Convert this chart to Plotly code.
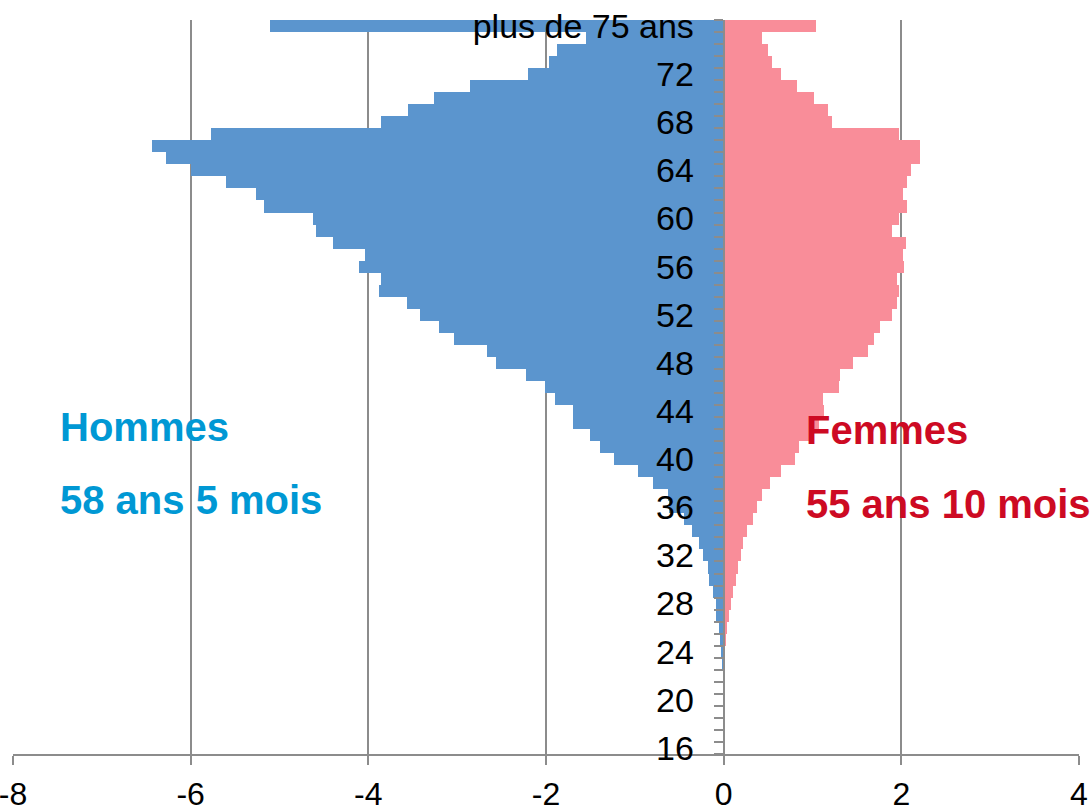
import plotly.graph_objects as go

# Categories from bottom (16 ans) to top (plus de 75 ans)
ages = [str(a) for a in range(16, 76)] + ["plus de 75 ans"]

# Values listed from top (plus de 75 ans) down to 16 ans
hommes_top_down = [
    -5.11,                                            # plus de 75 ans
    -1.55, -1.88, -1.97, -2.20, -2.86, -3.26, -3.55, -3.86,   # 75..68
    -5.77, -6.44, -6.28, -6.00, -5.60, -5.26, -5.17, -4.62,   # 67..60
    -4.59, -4.40, -4.04, -4.11, -3.86, -3.88, -3.56, -3.42,   # 59..52
    -3.20, -3.04, -2.66, -2.56, -2.23, -2.01, -1.90, -1.70,   # 51..44
    -1.70, -1.51, -1.39, -1.23, -0.97, -0.80, -0.63, -0.62,   # 43..36
    -0.45, -0.36, -0.28, -0.23, -0.18, -0.16, -0.12, -0.09,   # 35..28
    -0.085, -0.05, -0.045, -0.025, -0.012, 0, 0, 0,           # 27..20
    0, 0, 0, 0,                                               # 19..16
]
femmes_top_down = [
    1.04,                                             # plus de 75 ans
    0.43, 0.50, 0.54, 0.65, 0.83, 1.02, 1.17, 1.22,   # 75..68
    1.97, 2.21, 2.21, 2.11, 2.06, 2.02, 2.06, 1.97,   # 67..60
    1.90, 2.05, 2.02, 2.03, 1.95, 1.97, 1.95, 1.90,   # 59..52
    1.76, 1.69, 1.62, 1.46, 1.31, 1.30, 1.12, 1.13,   # 51..44
    1.07, 1.00, 0.85, 0.80, 0.645, 0.52, 0.43, 0.37,  # 43..36
    0.33, 0.26, 0.22, 0.19, 0.16, 0.14, 0.105, 0.08,  # 35..28
    0.06, 0.04, 0.03, 0.02, 0.015, 0, 0, 0,           # 27..20
    0, 0, 0, 0,                                       # 19..16
]
hommes = hommes_top_down[::-1]
femmes = femmes_top_down[::-1]

x_ticks = [-8, -6, -4, -2, 0, 2, 4]
x_tick_text = [str(v) for v in x_ticks]
label_every = 4

idx = list(range(len(ages)))
tick_idx = idx[::label_every]
tick_txt = [ages[i] for i in tick_idx]

FONT = "Liberation Sans, Arial, sans-serif"
GRID = "#8c8c8c"

fig = go.Figure()
fig.add_trace(go.Bar(y=idx, x=hommes, orientation="h", name="Hommes",
                     marker=dict(color="#5B95CE", line=dict(width=0)), width=1))
fig.add_trace(go.Bar(y=idx, x=femmes, orientation="h", name="Femmes",
                     marker=dict(color="#F98D99", line=dict(width=0)), width=1))

xmin, xmax = x_ticks[0], x_ticks[-1]
fig.update_layout(
    width=1090, height=809,
    margin=dict(l=13, r=11, t=20, b=55, autoexpand=False),
    paper_bgcolor="white", plot_bgcolor="white",
    barmode="overlay", bargap=0, showlegend=False,
    font=dict(family=FONT, color="black"),
    xaxis=dict(range=[xmin, xmax], tickmode="array", tickvals=x_ticks,
               ticktext=x_tick_text, automargin=False,
               ticklabeloverflow="allow",
               showgrid=True, gridcolor=GRID, gridwidth=2, zeroline=False,
               showline=True, linecolor=GRID, linewidth=2,
               ticks="outside", ticklen=9, tickwidth=2, tickcolor=GRID,
               ticklabelstandoff=2,
               tickfont=dict(size=32, color="black", family=FONT)),
    yaxis=dict(range=[-0.5, len(ages) - 0.5], anchor="free",
               position=(0 - xmin) / (xmax - xmin), automargin=False,
               tickmode="array", tickvals=tick_idx, ticktext=tick_txt,
               ticks="outside", ticklen=10, tickcolor="rgba(0,0,0,0)",
               ticklabelstandoff=12,
               showline=True, linecolor=GRID, linewidth=2,
               showgrid=False, zeroline=False,
               minor=dict(ticks="outside", tick0=-0.5, dtick=1, ticklen=9,
                          tickwidth=2, tickcolor=GRID, showgrid=False),
               tickfont=dict(size=34, color="black", family=FONT)),
)

blue_txt = "#0098D4"
red_txt = "#CD0A23"
ann = [
    ("<b>Hommes</b>", -7.49, 26.7, blue_txt),
    ("<b>58 ans 5 mois</b>", -7.49, 20.6, blue_txt),
    ("<b>Femmes</b>", 0.90, 26.4, red_txt),
    ("<b>55 ans 10 mois</b>", 0.90, 20.3, red_txt),
]
for t, x, y, c in ann:
    fig.add_annotation(text=t, x=x, y=y, xref="x", yref="y", showarrow=False,
                       xanchor="left", yanchor="middle",
                       font=dict(size=40, color=c, family=FONT))

fig.write_html(
    "out.html",
    config={"displayModeBar": False},
    post_script="document.body.style.margin='0px';document.body.style.padding='0px';",
)
